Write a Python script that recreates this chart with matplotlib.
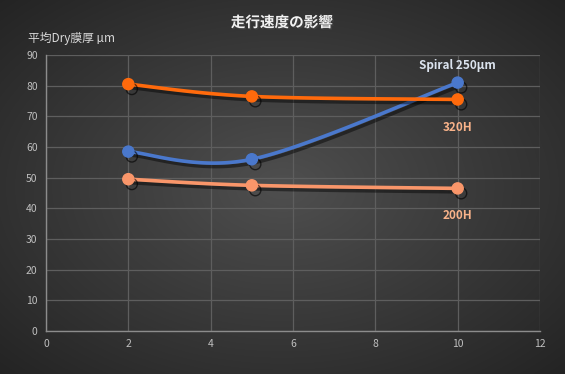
import numpy as np
import matplotlib
matplotlib.use("Agg")
import matplotlib.pyplot as plt
import matplotlib.patheffects as pe

plt.rcParams['font.family'] = ['Noto Sans CJK JP', 'DejaVu Sans']

speed = [2, 5, 10]
h320 = [80.5, 76.5, 75.5]
spiral = [58.5, 56.0, 81.0]
h200 = [49.5, 47.5, 46.5]
series_names = ["Spiral 250µm", "320H", "200H"]
title = "走行速度の影響"
ylabel = "平均Dry膜厚 µm"
xticks = [0, 2, 4, 6, 8, 10, 12]
yticks = [0, 10, 20, 30, 40, 50, 60, 70, 80, 90]


def smooth(xs, ys, n=60):
    pts = np.column_stack([xs, ys]).astype(float)
    out = []
    for i in range(len(pts) - 1):
        p0 = pts[i - 1] if i > 0 else pts[i]
        p1 = pts[i]
        p2 = pts[i + 1]
        p3 = pts[i + 2] if i + 2 < len(pts) else pts[i + 1]
        c1 = p1 + (p2 - p0) / 6
        c2 = p2 - (p3 - p1) / 6
        t = np.linspace(0, 1, n)[:, None]
        seg = ((1 - t) ** 3) * p1 + 3 * ((1 - t) ** 2) * t * c1 + 3 * (1 - t) * t ** 2 * c2 + t ** 3 * p2
        out.append(seg if i == 0 else seg[1:])
    s = np.vstack(out)
    return s[:, 0], s[:, 1]


fig = plt.figure(figsize=(5.65, 3.74), dpi=100)

# radial gradient background
bg = fig.add_axes([0, 0, 1, 1], zorder=-10)
yy, xx = np.mgrid[-1:1:300j, -1:1:450j]
r = np.sqrt(xx ** 2 + yy ** 2) / np.sqrt(2)
c = 0.31 - 0.17 * r
img = np.dstack([c, c, c])
bg.imshow(img, aspect='auto', extent=[0, 1, 0, 1])
bg.axis('off')

ax = fig.add_axes([46 / 565, 1 - 331 / 374, 494 / 565, 276 / 374])
ax.set_facecolor('none')
ax.set_xlim(0, 12)
ax.set_ylim(0, 90)
ax.set_xticks(xticks)
ax.set_yticks(yticks)
ax.grid(True, color='#5e5e5e', linewidth=0.9)
ax.set_axisbelow(True)
for s in ['top', 'right']:
    ax.spines[s].set_visible(False)
for s in ['left', 'bottom']:
    ax.spines[s].set_color('#8c8c8c')
    ax.spines[s].set_linewidth(1.0)
ax.tick_params(colors='#bfbfbf', labelsize=7.5, length=0, pad=6)

line_shadow = [pe.SimpleLineShadow(offset=(1.5, -2.5), shadow_color='black', alpha=0.45), pe.Normal()]
mk_shadow = [pe.SimpleLineShadow(offset=(2.5, -3.5), shadow_color='black', alpha=0.6), pe.Normal()]

colors = {"320H": '#ff6a0c', "Spiral 250µm": '#4a78cc', "200H": '#f9966a'}
for name, ys in [("200H", h200), ("Spiral 250µm", spiral), ("320H", h320)]:
    sx, sy = smooth(speed, ys)
    ax.plot(sx, sy, color=colors[name], lw=2.6, path_effects=line_shadow, solid_capstyle='round', zorder=3)
    ax.plot(speed, ys, 'o', color=colors[name], ms=8, path_effects=mk_shadow, zorder=4)

ax.text(10, 86.5, series_names[0], color='#dbe3ee', fontsize=8.5, fontweight='bold', ha='center', va='center')
ax.text(10, 66.5, series_names[1], color='#f9b38a', fontsize=8.5, fontweight='bold', ha='center', va='center')
ax.text(10, 37.5, series_names[2], color='#f9b38a', fontsize=8.5, fontweight='bold', ha='center', va='center')

fig.text(282 / 565, 1 - 22 / 374, title, color='#f2f2f2', fontsize=10.5, fontweight='bold', ha='center', va='center',
         path_effects=[pe.SimplePatchShadow(offset=(1, -1), alpha=0.6), pe.Normal()])
fig.text(28 / 565, 1 - 38 / 374, ylabel, color='#d9d9d9', fontsize=8.5, ha='left', va='center')

fig.savefig('out.png', dpi=100)
